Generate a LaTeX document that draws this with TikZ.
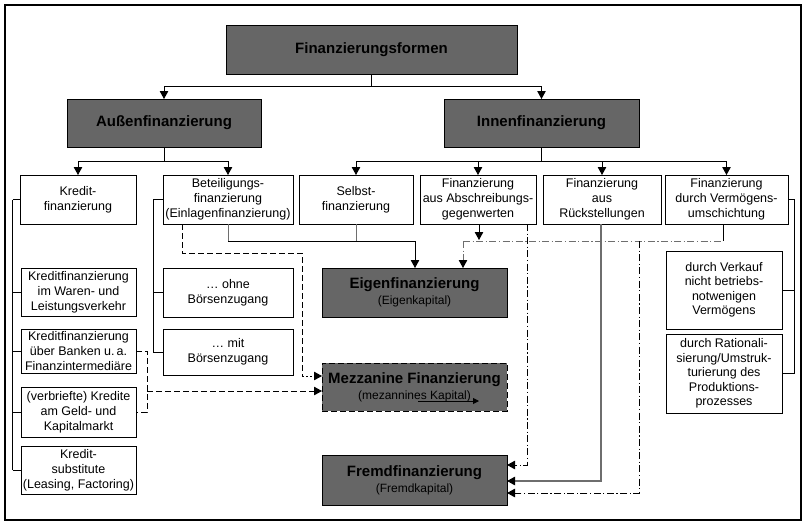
\documentclass[tikz,border=0pt]{standalone}
\usepackage{fontspec}
\setmainfont{Liberation Sans}
\usetikzlibrary{arrows.meta}
\definecolor{boxgray}{HTML}{666666}
\definecolor{linegray}{HTML}{6E6E6E}
\newcommand{\subfnt}{\mdseries\fontsize{12}{14}\selectfont}
\begin{document}
\begin{tikzpicture}[x=1pt,y=-1pt,
  every node/.style={inner sep=0pt, outer sep=0pt, align=center},
  darkbox/.style={draw=black, line width=0.9pt, fill=boxgray, font=\bfseries\fontsize{15}{17}\selectfont},
  lightbox/.style={draw=black, line width=0.9pt, fill=white, font=\fontsize{12.5}{15}\selectfont},
  con/.style={line width=0.9pt, draw=black},
  arr/.style={con, -{Triangle[length=8pt,width=8.5pt,black]}},
  dashline/.style={dash pattern=on 6pt off 3pt},
  dashdot/.style={dash pattern=on 7pt off 2.5pt on 1.2pt off 2.5pt}
]
\useasboundingbox (0,0) rectangle (806,525);
\draw[line width=1.3pt] (5,5) rectangle (801,520);

% level 1, 2
\node[darkbox, minimum width=291pt, minimum height=49pt] (form) at (371.5,49.5) {Finanzierungsformen};
\node[darkbox, minimum width=194pt, minimum height=48pt] (aussen) at (164,123) {Außenfinanzierung};
\node[darkbox, minimum width=195pt, minimum height=48pt] (innen) at (541.5,123) {Innenfinanzierung};

% level 3
\node[lightbox, minimum width=116pt, minimum height=49pt] (kredit) at (78,199.5) {Kredit-\\finanzierung};
\node[lightbox, minimum width=130pt, minimum height=49pt] (beteil) at (228,199.5) {Beteiligungs-\\finanzierung\\(Einlagenfinanzierung)};
\node[lightbox, minimum width=114pt, minimum height=49pt] (selbst) at (356,199.5) {Selbst-\\finanzierung};
\node[lightbox, minimum width=116pt, minimum height=49pt] (abschr) at (478,199.5) {Finanzierung\\aus Abschreibungs-\\gegenwerten};
\node[lightbox, minimum width=118pt, minimum height=49pt] (rueck) at (602,199.5) {Finanzierung\\aus\\Rückstellungen};
\node[lightbox, minimum width=123pt, minimum height=49pt] (verm) at (726.5,199.5) {Finanzierung\\durch Vermögens-\\umschichtung};

% left column
\node[lightbox, minimum width=115pt, minimum height=48pt] (waren) at (78.5,292) {Kreditfinanzierung\\im Waren- und\\Leistungsverkehr};
\node[lightbox, minimum width=115pt, minimum height=44pt] (banken) at (78.5,351) {Kreditfinanzierung\\über Banken u.\,a.\\Finanzintermediäre};
\node[lightbox, minimum width=115pt, minimum height=50pt] (verbr) at (78.5,412) {(verbriefte) Kredite\\am Geld- und\\Kapitalmarkt};
\node[lightbox, minimum width=115pt, minimum height=48pt] (subst) at (78.5,470) {Kredit-\\substitute\\(Leasing, Factoring)};

% Beteiligung column
\node[lightbox, minimum width=130pt, minimum height=49pt] (ohne) at (228,292.5) {\dots\ ohne\\Börsenzugang};
\node[lightbox, minimum width=130pt, minimum height=46pt] (mit) at (228,352) {\dots\ mit\\Börsenzugang};

% right column
\node[lightbox, minimum width=116pt, minimum height=78pt, font=\fontsize{12.5}{14.5}\selectfont] (verk) at (724,290) {durch Verkauf\\nicht betriebs-\\notwenigen\\Vermögens};
\node[lightbox, minimum width=116pt, minimum height=79pt, font=\fontsize{12.5}{14.5}\selectfont] (ratio) at (724,373.5) {durch Rationali-\\sierung/Umstruk-\\turierung des\\Produktions-\\prozesses};

% result boxes
\node[darkbox, minimum width=185pt, minimum height=49pt] (eigen) at (414.5,292.5) {Eigenfinanzierung\\[-1pt]{\subfnt (Eigenkapital)}};
\node[darkbox, dashline, minimum width=185pt, minimum height=48pt] (mezz) at (414.5,387) {Mezzanine Finanzierung\\[-1pt]{\subfnt (mezannines Kapital)}};
\node[darkbox, minimum width=185pt, minimum height=50pt] (fremd) at (414.5,480) {Fremdfinanzierung\\[-1pt]{\subfnt (Fremdkapital)}};

% tree connectors
\draw[arr] (form.south) -- ++(0,12) -| (aussen.north);
\draw[arr] (form.south) -- ++(0,12) -| (innen.north);
\draw[arr] (aussen.south) -- ++(0,14) -| (kredit.north);
\draw[arr] (aussen.south) -- ++(0,14) -| (beteil.north);
\draw[arr] (innen.south) -- ++(0,14) -| (selbst.north);
\draw[arr] (innen.south) -- ++(0,14) -| (abschr.north);
\draw[arr] (innen.south) -- ++(0,14) -| (rueck.north);
\draw[arr] (innen.south) -- ++(0,14) -| (verm.north);

% brackets
\coordinate (kb) at (12.5,199.5);
\draw[con] (kredit.west) -- (kb);
\draw[line width=1.4pt] (kb) -- (12.5,470);
\draw[con] (12.5,470) -- (subst.west);
\draw[con] (12.5,292) -- (waren.west);
\draw[con] (12.5,351) -- (banken.west);
\draw[con] (12.5,412) -- (verbr.west);

\draw[con] (beteil.west) -- (153,199.5) |- (mit.west);
\draw[con] (153,292.5) -- (ohne.west);

\draw[con] (verm.east) -- (794,199.5) |- (ratio.east);
\draw[con] (794,290) -- (verk.east);

% dashed connectors to mezzanine
\draw[con, dashline] (banken.east) -- (147,351) -- (147,412) -- (verbr.east);
\coordinate (bd) at (147,391);
\draw[arr, dashline] (bd) -- (bd -| mezz.west);
\coordinate (b1) at (182,224);
\draw[con, dashline] (b1) -- (182,253) -- (302,253) -- (302,376);
\coordinate (b2) at (302,376);
\draw[arr, dash pattern=on 2pt off 2pt] (b2) -- (b2 -| mezz.west);

% Eigenfinanzierung connectors
\draw[con, draw=linegray] (beteil.south) -- (228,241);
\draw[con, draw=linegray] (selbst.south) -- (356,241);
\draw[con] (228,241) -- (415,241);
\coordinate (e1) at (415,241);
\draw[arr] (e1) -- (e1 |- eigen.north);

\coordinate (a1) at (479,224);
\draw[arr] (a1) -- (479,240);
\draw[con, draw=linegray, dashdot] (463,241) -- (723,241);
\draw[con] (723,224) -- (723,241);
\coordinate (e2) at (463,241);
\draw[arr, draw=linegray, dashdot] (e2) -- (e2 |- eigen.north);

% Fremdfinanzierung connectors
\coordinate (f1) at (527,224);
\draw[arr, dashdot] (f1) -- (527,465) -- (fremd.east |- 0,465);
\coordinate (f2) at (601,224);
\draw[arr, draw=linegray, line width=1.5pt, -{Triangle[length=8pt,width=8.5pt,black,line width=0.9pt]}] (f2) -- (601,481) -- (fremd.east |- 0,481);
\coordinate (f3) at (639,241);
\draw[arr, dashdot] (f3) -- (639,493) -- (fremd.east |- 0,493);

% stray arrow in mezzanine box
\coordinate (m1) at (418,401);
\draw[con, -{Triangle[length=6pt,width=6pt,black]}] (m1) -- (479,401);
\end{tikzpicture}
\end{document}
